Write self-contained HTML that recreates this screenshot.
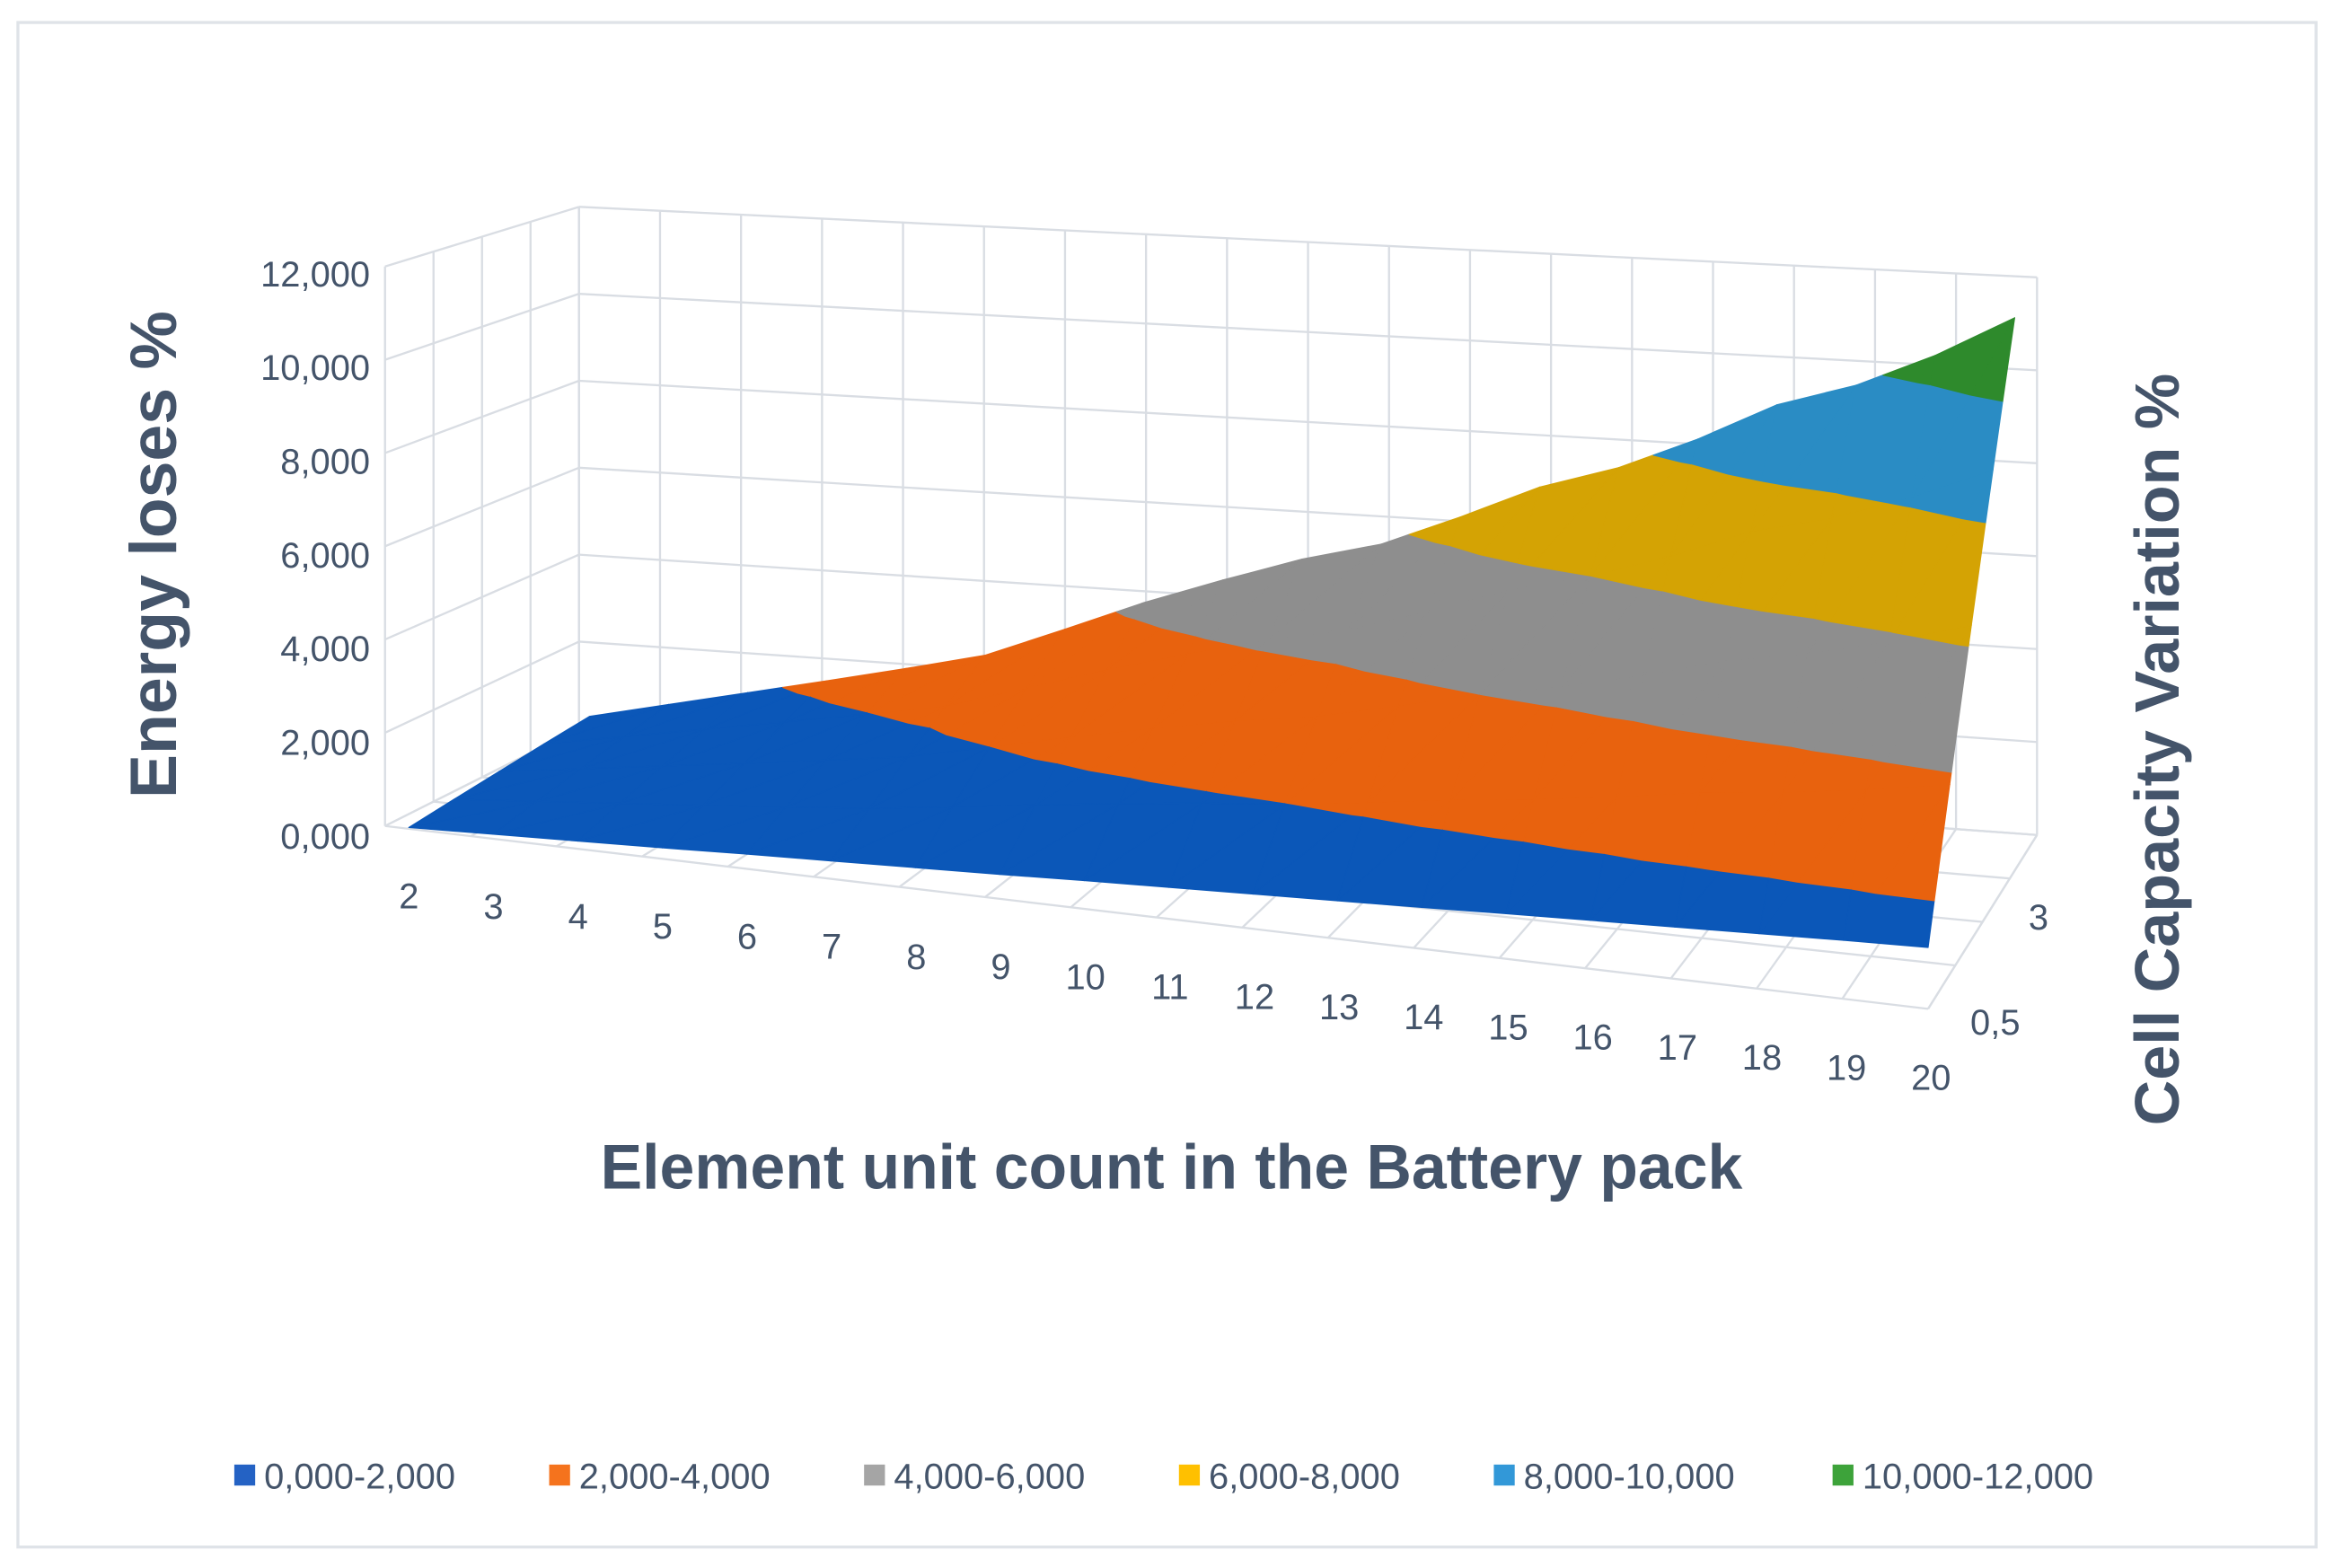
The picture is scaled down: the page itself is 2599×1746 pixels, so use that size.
<!DOCTYPE html>
<html><head><meta charset="utf-8"><style>
html,body{margin:0;padding:0;background:#fff;}
svg{display:block;font-family:"Liberation Sans",sans-serif;}
</style></head><body>
<svg id="chart" width="2599" height="1746" viewBox="0 0 1564 1046" preserveAspectRatio="none" xmlns="http://www.w3.org/2000/svg">
<rect x="12" y="15" width="1540" height="1017" fill="#fff" stroke="#dfe3e8" stroke-width="2"/>
<g id="grid"></g>
<g id="surf"></g>
<g id="labels"></g>
<text transform="translate(118,370) rotate(-90)" text-anchor="middle" font-size="44" font-weight="bold" fill="#44546a">Energy loses %</text>
<text transform="translate(1460,500) rotate(-90)" text-anchor="middle" font-size="42" font-weight="bold" fill="#44546a">Cell Capacity Variation %</text>
<text x="785" y="793" text-anchor="middle" font-size="42" font-weight="bold" fill="#44546a">Element unit count in the Battery pack</text>
<g id="legend"></g>
</svg>
<script>
const categories = [2,3,4,5,6,7,8,9,10,11,12,13,14,15,16,17,18,19,20];
const depthLabels = ["0,5","3"];
const frontValues = [0,70,140,210,290,360,430,500,580,650,720,790,860,940,1010,1080,1150,1220,1280];
const backValues = [1170,1510,1850,2190,2540,2910,3560,4230,4810,5350,5760,6440,7180,7690,8400,9240,9750,10490,11400];
const zTicks = [0,2000,4000,6000,8000,10000,12000];
const zTickLabels = ["0,000","2,000","4,000","6,000","8,000","10,000","12,000"];
const bandLabels = ["0,000-2,000","2,000-4,000","4,000-6,000","6,000-8,000","8,000-10,000","10,000-12,000"];

const NS="http://www.w3.org/2000/svg";
const bandColors=["#0b57b8","#e8620e","#8e8e8e","#d4a304","#2a8cc4","#2e8a2c"];
const legendColors=["#2462c4","#f5731d","#a5a5a5","#ffc000","#3298d8","#3da33a"];
const n=categories.length-1;
function lerp(a,b,t){return a+(b-a)*t;}
function P(i,j,z){
  const t=i/n;
  const fx=lerp(274,1292,t), fy=lerp(552,673,t), fh=lerp(0.03125,0.032,t);
  const bx=lerp(395,1350,t), by=lerp(513,554,t), bh=0.03;
  return [lerp(fx,bx,j), lerp(fy,by,j)-z*lerp(fh,bh,j)];
}
function W(i,j,z){
  const t=i/n;
  const fx=lerp(258,1292,t), fy=lerp(551,673,t), fh=lerp(0.0311,0.033,t);
  const bx=lerp(388,1365,t), by=lerp(486,557,t), bh=lerp(0.029,0.031,t);
  return [lerp(fx,bx,j), lerp(fy,by,j)-z*lerp(fh,bh,j)];
}
function mk(tag,attrs,parent){const e=document.createElementNS(NS,tag);for(const k in attrs)e.setAttribute(k,attrs[k]);parent.appendChild(e);return e;}
const grid=document.getElementById('grid');
function line(a,b,name){const e=mk('line',{x1:a[0],y1:a[1],x2:b[0],y2:b[1],stroke:'#d9dde3','stroke-width':1.4},grid);

}
for(const z of zTicks){line(W(0,1,z),W(n,1,z),'back-gridline');}
for(let i=0;i<=n;i++){line(W(i,1,0),W(i,1,12000),'back-vertical-gridline');}
for(const z of zTicks){line(W(0,0,z),W(0,1,z),'side-gridline');}
for(let k=0;k<=4;k++){line(W(0,k/4,0),W(0,k/4,12000),'side-vertical-gridline');}
for(let i=0;i<=n;i++){line(W(i,0,0),W(i,1,0),'floor-gridline');}
for(let k=0;k<=4;k++){line(W(0,k/4,0),W(n,k/4,0),'floor-gridline');}
line(W(n,0,0),W(n,1,0),'right-floor-edge');
const surf=document.getElementById('surf');
function clip(poly,lo,keepAbove){
  const out=[];
  for(let k=0;k<poly.length;k++){
    const a=poly[k],b=poly[(k+1)%poly.length];
    const ina=keepAbove?a[2]>=lo:a[2]<=lo, inb=keepAbove?b[2]>=lo:b[2]<=lo;
    if(ina)out.push(a);
    if(ina!==inb){const t=(lo-a[2])/(b[2]-a[2]);out.push([lerp(a[0],b[0],t),lerp(a[1],b[1],t),lo]);}
  }
  return out;
}
const J=4;
for(let i=0;i<n;i++){
  for(let s=0;s<J;s++){
    const j0=s/J,j1=(s+1)/J;
    const v=(a,j)=>lerp(frontValues[a],backValues[a],j);
    const A=[i,j0,v(i,j0)],B=[i+1,j0,v(i+1,j0)],C=[i+1,j1,v(i+1,j1)],D=[i,j1,v(i,j1)];
    for(const tri of [[A,B,C],[A,C,D]]){
      for(let b=0;b<6;b++){
        let poly=clip(tri,b*2000,true);
        if(poly.length<3)continue;
        poly=clip(poly,(b+1)*2000,false);
        if(poly.length<3)continue;
        const pts=poly.map(q=>P(q[0],q[1],q[2]).join(',')).join(' ');
        const p=mk('polygon',{points:pts,fill:bandColors[b],stroke:bandColors[b],'stroke-width':0.7,'stroke-linejoin':'round'},surf);
        
        
      }
    }
  }
}
const lab=document.getElementById('labels');
zTicks.forEach((z,k)=>{
  const t=mk('text',{x:248,y:566-z*0.03125,'text-anchor':'end','font-size':24,fill:'#44546a'},lab);
  t.textContent=zTickLabels[k];
  
  
});
categories.forEach((c,i)=>{
  const t=i/n;
  const el=mk('text',{x:lerp(274,1294,t),y:lerp(606,727,t),'text-anchor':'middle','font-size':24,fill:'#44546a'},lab);
  el.textContent=c;
  
  
});
depthLabels.forEach((d,k)=>{
  const el=mk('text',{x:k===0?1337:1366,y:k===0?690:620,'text-anchor':'middle','font-size':24,fill:'#44546a'},lab);
  el.textContent=d;
  
  
});
const lg=document.getElementById('legend');
const lx=[157,368,579,790,1001,1228];
bandLabels.forEach((b,k)=>{
  const r=mk('rect',{x:lx[k],y:977,width:14,height:14,fill:legendColors[k]},lg);
  
  
  const t=mk('text',{x:lx[k]+20,y:993,'font-size':24,fill:'#44546a'},lg);
  t.textContent=b;
  
  
});
</script>
</body></html>
